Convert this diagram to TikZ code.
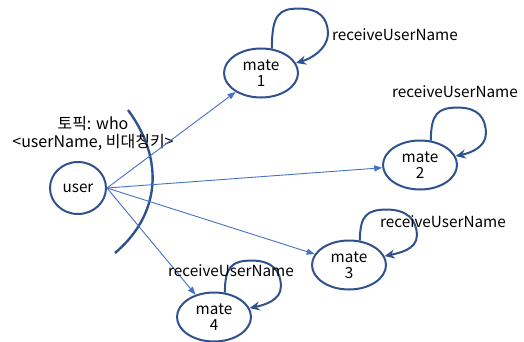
\documentclass[tikz,border=0pt]{standalone}
\usepackage{fontspec}
\setmainfont{Noto Sans CJK KR}
\usetikzlibrary{arrows.meta,shapes.geometric}
\definecolor{outline}{HTML}{2F528F}
\definecolor{link}{HTML}{4472C4}
\begin{document}
\begin{tikzpicture}[x=1pt,y=-1pt,
  txt/.style={font=\fontsize{15.3}{19}\selectfont},
  userstate/.style={ellipse,draw=outline,line width=2pt,minimum width=56pt,minimum height=52pt,inner sep=0pt,txt},
  matestate/.style={ellipse,draw=outline,line width=2pt,minimum width=74pt,minimum height=49pt,inner sep=0pt,align=center,txt},
  sendarrow/.style={draw=link,line width=0.9pt,-{Triangle[length=8pt,width=6pt]}},
  selfloop/.style={draw=outline,line width=2pt,-{Stealth[length=10pt,width=9pt]}},
  looplabel/.style={anchor=west,inner sep=0pt,txt}]
\useasboundingbox (0,0) rectangle (524,342);

% states
\node[userstate] (u) at (78,188) {user};
\node[matestate] (m1) at (261,73) {mate\\[-3pt]1};
\node[matestate] (m2) at (420,165) {mate\\[-3pt]2};
\node[matestate] (m3) at (349,265) {mate\\[-3pt]3};
\node[matestate] (m4) at (214,317) {mate\\[-3pt]4};

% topic boundary
\draw[outline,line width=2.4pt] (128,110) .. controls (165,160) and (160,215) .. (115,253);
\node[align=center,font=\fontsize{16}{20}\selectfont] (topic) at (93,133) {토픽: who\\[-2pt]<userName, 비대칭키>};

% publish arrows
\draw[sendarrow] (u.east) -- (m1);
\draw[sendarrow] (u.east) -- (m2);
\draw[sendarrow] (u.east) -- (m3);
\draw[sendarrow] (u.east) -- (m4);

% self loops
\draw[selfloop] (m1.66) .. controls +(0,-34) and +(-20,0) .. ++(27,-40)
  .. controls +(20,0) and +(0,-16) .. ++(29,25)
  .. controls +(0,16) and +(14,-4) .. (m1.16);
\draw[selfloop] (m2.66) .. controls +(0,-27) and +(-20,0) .. ++(27,-33)
  .. controls +(20,0) and +(0,-16) .. ++(28,26)
  .. controls +(0,14) and +(14,-3) .. (m2.14);
\draw[selfloop] (m3.66) .. controls +(0,-25) and +(-20,0) .. ++(27,-31)
  .. controls +(20,0) and +(0,-16) .. ++(30,26)
  .. controls +(0,14) and +(14,-3) .. (m3.14);
\draw[selfloop] (m4.66) .. controls +(0,-26) and +(-20,0) .. ++(27,-32)
  .. controls +(20,0) and +(0,-16) .. ++(29,26)
  .. controls +(0,14) and +(14,-3) .. (m4.14);

% loop labels
\node[looplabel] (l1) at (332,35) {receiveUserName};
\node[looplabel] (l2) at (392,92) {receiveUserName};
\node[looplabel] (l3) at (380,222) {receiveUserName};
\node[looplabel] (l4) at (168,271) {receiveUserName};
\end{tikzpicture}
\end{document}
